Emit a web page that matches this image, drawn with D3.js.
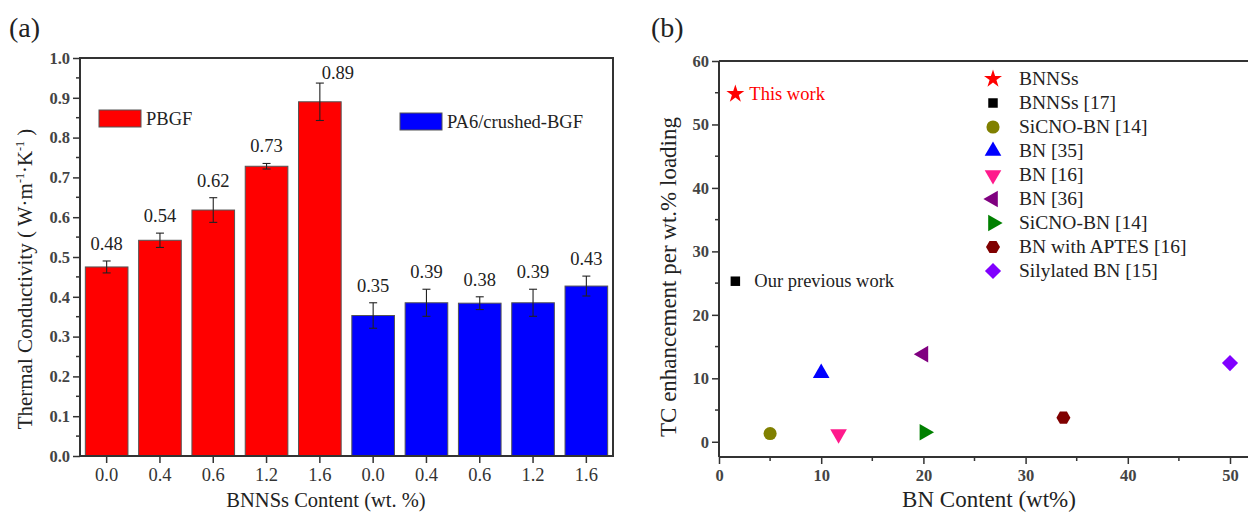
<!DOCTYPE html>
<html>
<head>
<meta charset="utf-8">
<script src="https://cdn.jsdelivr.net/npm/d3@7"></script>
<style>
  body { margin: 0; background: #fff; }
  svg { display: block; font-family: "Liberation Serif", "Times New Roman", serif; }
</style>
</head>
<body>
<svg id="chart" width="1248" height="513"></svg>
<script>
// ---- panel (a) data
const contentLabels = ["0.0", "0.4", "0.6", "1.2", "1.6"];
const pbgfValues = [0.475, 0.542, 0.618, 0.728, 0.890];
const pbgfErrors = [0.015, 0.018, 0.031, 0.007, 0.047];
const pbgfLabels = ["0.48", "0.54", "0.62", "0.73", "0.89"];
const pa6Values = [0.353, 0.385, 0.384, 0.385, 0.427];
const pa6Errors = [0.032, 0.034, 0.016, 0.034, 0.025];
const pa6Labels = ["0.35", "0.39", "0.38", "0.39", "0.43"];
const barTicks = [0, 0.1, 0.2, 0.3, 0.4, 0.5, 0.6, 0.7, 0.8, 0.9, 1.0];

// ---- panel (b) data
const refNames = ["BNNSs", "BNNSs [17]", "SiCNO-BN [14]", "BN [35]", "BN [16]", "BN [36]", "SiCNO-BN [14]", "BN with APTES [16]", "Silylated BN [15]"];
const refContent = [1.6, 1.6, 5.0, 10.0, 11.7, 20.0, 20.1, 33.7, 50.0];
const refEnhance = [54.8, 25.3, 1.3, 10.8, 1.2, 13.8, 1.5, 3.8, 12.4];
const refShapes = ["star", "square", "circle", "up", "down", "left", "right", "hexagon", "diamond"];
const refColors = ["#ff0000", "#000000", "#808000", "#0000ff", "#ff1a8c", "#800080", "#008000", "#800000", "#8000ff"];
const refNotes = ["This work", "Our previous work"];
const scatterYTicks = [0, 10, 20, 30, 40, 50, 60];
const scatterXTicks = [0, 10, 20, 30, 40, 50];

const svg = d3.select("#chart");
svg.append("rect").attr("width", 1248).attr("height", 513).attr("fill", "#fff");
const axisColor = "#333";

// ================= panel (a)
const A = { left: 80, right: 613, top: 58, bottom: 456 };
const bars = [];
pbgfValues.forEach((v, i) => bars.push({ key: "p" + i, label: contentLabels[i], value: v, err: pbgfErrors[i], text: pbgfLabels[i], fill: "#ff0000" }));
pa6Values.forEach((v, i) => bars.push({ key: "q" + i, label: contentLabels[i], value: v, err: pa6Errors[i], text: pa6Labels[i], fill: "#0000ff" }));

const xa = d3.scaleBand().domain(bars.map(d => d.key)).range([A.left, A.right]).paddingInner(0.2).paddingOuter(0.1);
const ya = d3.scaleLinear().domain([0, 1]).range([A.bottom, A.top]);

const ga = svg.append("g");
ga.append("g").selectAll("rect").data(bars).enter().append("rect")
  .attr("x", d => xa(d.key)).attr("y", d => ya(d.value))
  .attr("width", xa.bandwidth()).attr("height", d => ya(0) - ya(d.value))
  .attr("fill", d => d.fill).attr("stroke", "#555").attr("stroke-width", 1);

// error bars
const eb = ga.append("g").attr("stroke", "#222").attr("stroke-width", 1.1);
bars.forEach(d => {
  const cx = xa(d.key) + xa.bandwidth() / 2;
  eb.append("line").attr("x1", cx).attr("x2", cx).attr("y1", ya(d.value + d.err)).attr("y2", ya(d.value - d.err));
  eb.append("line").attr("x1", cx - 4).attr("x2", cx + 4).attr("y1", ya(d.value + d.err)).attr("y2", ya(d.value + d.err));
  eb.append("line").attr("x1", cx - 4).attr("x2", cx + 4).attr("y1", ya(d.value - d.err)).attr("y2", ya(d.value - d.err));
});

// value labels
ga.append("g").selectAll("text").data(bars).enter().append("text")
  .attr("x", d => xa(d.key) + xa.bandwidth() / 2 + (d.text === "0.89" ? 18 : 0))
  .attr("y", d => ya(d.value + d.err) - (d.text === "0.89" ? 4 : 11))
  .attr("text-anchor", "middle").attr("font-size", 18.5).attr("fill", "#222")
  .text(d => d.text);

// axes
const tickFont = sel => sel.attr("font-size", 16.5).attr("font-weight", "bold").attr("fill", "#444").attr("font-family", "Liberation Serif");
const yAxisA = d3.axisLeft(ya).tickValues(barTicks).tickFormat(d3.format(".1f")).tickSize(7).tickPadding(3);
const gy = ga.append("g").attr("transform", `translate(${A.left},0)`).call(yAxisA);
gy.select(".domain").remove();
gy.selectAll("line").attr("stroke", axisColor).attr("stroke-width", 1.5);
gy.selectAll("text").call(tickFont);
// minor ticks
ga.append("g").selectAll("line").data(d3.range(0.05, 1, 0.1)).enter().append("line")
  .attr("x1", A.left - 4).attr("x2", A.left).attr("y1", d => ya(d)).attr("y2", d => ya(d))
  .attr("stroke", axisColor).attr("stroke-width", 1.5);

const xAxisA = d3.axisBottom(xa).tickFormat(k => bars.find(b => b.key === k).label).tickSize(7).tickPadding(5);
const gx = ga.append("g").attr("transform", `translate(0,${A.bottom})`).call(xAxisA);
gx.select(".domain").remove();
gx.selectAll("line").attr("stroke", axisColor).attr("stroke-width", 1.5);
gx.selectAll("text").attr("font-size", 18.5).attr("fill", "#333").attr("font-family", "Liberation Serif");

// frame
ga.append("rect").attr("x", A.left).attr("y", A.top).attr("width", A.right - A.left).attr("height", A.bottom - A.top)
  .attr("fill", "none").attr("stroke", axisColor).attr("stroke-width", 2);

// legend
[["PBGF", "#ff0000", 99, 110], ["PA6/crushed-BGF", "#0000ff", 400, 113]].forEach(([name, col, lx, ly]) => {
  ga.append("rect").attr("x", lx).attr("y", ly).attr("width", 42).attr("height", 17)
    .attr("fill", col).attr("stroke", "#555").attr("stroke-width", 1);
  ga.append("text").attr("x", lx + 47).attr("y", ly + 15).attr("font-size", 18.5).attr("fill", "#222").text(name);
});

// titles
ga.append("text").attr("transform", "translate(32,279) rotate(-90)").attr("text-anchor", "middle")
  .attr("font-size", 21).attr("fill", "#222")
  .html('Thermal Conductivity ( W·m<tspan dy="-8" font-size="12">-1</tspan><tspan dy="8">·K</tspan><tspan dy="-8" font-size="12">-1</tspan><tspan dy="8"> )</tspan>');
ga.append("text").attr("x", 326).attr("y", 507).attr("text-anchor", "middle").attr("font-size", 20.5).attr("fill", "#222")
  .text("BNNSs Content (wt. %)");
svg.append("text").attr("x", 9).attr("y", 37).attr("font-size", 28).attr("fill", "#222").text("(a)");

// ================= panel (b)
const B = { left: 719, top: 61, bottom: 457 };
const xb = d3.scaleLinear().domain([0, 53]).range([B.left, B.left + 53 * 10.22]);
const yb = d3.scaleLinear().domain([-2.4, 60]).range([B.bottom, B.top]);
const gb = svg.append("g");

const yAxisB = d3.axisLeft(yb).tickValues(scatterYTicks).tickSize(7).tickPadding(3);
const gyb = gb.append("g").attr("transform", `translate(${B.left},0)`).call(yAxisB);
gyb.select(".domain").remove();
gyb.selectAll("line").attr("stroke", axisColor).attr("stroke-width", 1.5);
gyb.selectAll("text").call(tickFont);
gb.append("g").selectAll("line").data(d3.range(5, 60, 10)).enter().append("line")
  .attr("x1", B.left - 4).attr("x2", B.left).attr("y1", d => yb(d)).attr("y2", d => yb(d))
  .attr("stroke", axisColor).attr("stroke-width", 1.5);

const xAxisB = d3.axisBottom(xb).tickValues(scatterXTicks).tickSize(7).tickPadding(5);
const gxb = gb.append("g").attr("transform", `translate(0,${B.bottom})`).call(xAxisB);
gxb.select(".domain").remove();
gxb.selectAll("line").attr("stroke", axisColor).attr("stroke-width", 1.5);
gxb.selectAll("text").call(tickFont);
gb.append("g").selectAll("line").data(d3.range(5, 53, 10)).enter().append("line")
  .attr("x1", d => xb(d)).attr("x2", d => xb(d)).attr("y1", B.bottom).attr("y2", B.bottom + 4)
  .attr("stroke", axisColor).attr("stroke-width", 1.5);

// axis lines (no right border, plot runs off the edge)
gb.append("line").attr("x1", B.left).attr("x2", B.left).attr("y1", B.top).attr("y2", B.bottom).attr("stroke", axisColor).attr("stroke-width", 2);
gb.append("line").attr("x1", B.left).attr("x2", 1248).attr("y1", B.bottom).attr("y2", B.bottom).attr("stroke", axisColor).attr("stroke-width", 2);
gb.append("line").attr("x1", B.left).attr("x2", 1248).attr("y1", B.top).attr("y2", B.top).attr("stroke", axisColor).attr("stroke-width", 2);

// marker generator
function markerPath(shape) {
  if (shape === "star") return d3.symbol(d3.symbolStar, 100)();
  if (shape === "square") return d3.symbol(d3.symbolSquare, 90)();
  if (shape === "circle") return d3.symbol(d3.symbolCircle, 135)();
  if (shape === "diamond") return d3.symbol(d3.symbolSquare, 130)();
  if (shape === "hexagon") {
    const r = 7;
    return d3.line()(d3.range(6).map(k => [r * Math.cos(Math.PI / 3 * k), r * Math.sin(Math.PI / 3 * k)])) + "Z";
  }
  return d3.symbol(d3.symbolTriangle, 120)();
}
const markerRot = { down: 180, left: -90, right: 90, diamond: 45 };

gb.append("g").selectAll("path").data(refShapes).enter().append("path")
  .attr("d", s => markerPath(s))
  .attr("transform", (s, i) => `translate(${xb(refContent[i])},${yb(refEnhance[i])}) rotate(${markerRot[s] || 0})`)
  .attr("fill", (s, i) => refColors[i]);

// notes next to the two own-work points
gb.append("text").attr("x", xb(refContent[0]) + 14).attr("y", yb(refEnhance[0]) + 6).attr("font-size", 18.5)
  .attr("fill", "#ff0000").text(refNotes[0]);
gb.append("text").attr("x", xb(refContent[1]) + 19).attr("y", yb(refEnhance[1]) + 6).attr("font-size", 18.5)
  .attr("fill", "#222").text(refNotes[1]);

// legend
const lg = gb.append("g");
refNames.forEach((name, i) => {
  const ly = 79 + i * 24;
  lg.append("path").attr("d", markerPath(refShapes[i]))
    .attr("transform", `translate(993,${ly}) rotate(${markerRot[refShapes[i]] || 0})`)
    .attr("fill", refColors[i]);
  lg.append("text").attr("x", 1019).attr("y", ly + 6).attr("font-size", 19.5).attr("fill", "#222").text(name);
});

// titles
gb.append("text").attr("transform", "translate(676,277) rotate(-90)").attr("text-anchor", "middle")
  .attr("font-size", 23).attr("fill", "#222").text("TC enhancement per wt.% loading");
gb.append("text").attr("x", 989).attr("y", 507).attr("text-anchor", "middle").attr("font-size", 23).attr("fill", "#222")
  .text("BN Content (wt%)");
svg.append("text").attr("x", 651).attr("y", 37).attr("font-size", 28).attr("fill", "#222").text("(b)");
</script>
</body>
</html>
